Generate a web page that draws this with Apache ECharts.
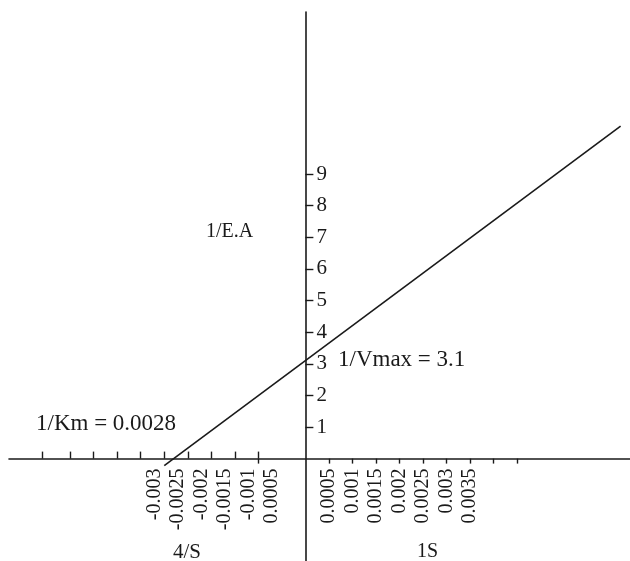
<!DOCTYPE html>
<html>
<head>
<meta charset="utf-8">
<script src="https://cdn.jsdelivr.net/npm/echarts@6/dist/echarts.min.js"></script>
<style>html,body{margin:0;padding:0;background:#fff}#c{width:630px;height:561px}</style>
</head>
<body>
<div id="c"></div>
<script>
// Line through the two ends (1/S, 1/v)
const lineX = [-0.003, 0.0067];
const lineY = [-0.22, 10.52];

// Negative-side ticks and labels (as printed in the picture)
const negTickValues = [-0.0056, -0.005, -0.0045, -0.004, -0.0035, -0.003, -0.0025, -0.002, -0.0015, -0.001];
const negLabelValues = [-0.003, -0.0025, -0.002, -0.0015, -0.001, -0.0005];
const negLabelTexts = ['-0.003', '-0.0025', '-0.002', '-0.0015', '-0.001', '0.0005'];

// Positive-side ticks and labels
const posTickValues = [-0.001, 0.0005, 0.001, 0.0015, 0.002, 0.0025, 0.003, 0.0035, 0.004, 0.0045];
const posLabelValues = [0.0005, 0.001, 0.0015, 0.002, 0.0025, 0.003, 0.0035];
const posLabelTexts = ['0.0005', '0.001', '0.0015', '0.002', '0.0025', '0.003', '0.0035'];

// Y ticks
const yTickValues = [1, 2, 3, 4, 5, 6, 7, 8, 9];

const FONT = 'Liberation Serif';
const INK = '#1a1a1a';

function lookup(vals, texts) {
  return function (v) {
    for (let i = 0; i < vals.length; i++) {
      if (Math.abs(vals[i] - v) < 1e-9) return texts[i];
    }
    return '';
  };
}

const W = 630, H = 561;
const G = { left: 9, right: 0, top: 12, bottom: 0 };
const xMin = -0.0063, xMax = 0.0069;
const yMin = -3.24, yMax = 14.13;
const gw = W - G.left - G.right, gh = H - G.top - G.bottom;
// distance from grid edges to the zero lines (axes cross at the origin)
const xAxisOffset = -(gh * (0 - yMin) / (yMax - yMin));
const yAxisOffset = -(gw * (0 - xMin) / (xMax - xMin));

const chart = echarts.init(document.getElementById('c'));

chart.setOption({
  animation: false,
  backgroundColor: '#fff',
  grid: Object.assign({ containLabel: false, outerBoundsMode: 'none' }, G),
  xAxis: [
    {
      type: 'value', min: xMin, max: xMax, position: 'bottom', offset: xAxisOffset,
      splitLine: { show: false },
      axisLine: { onZero: false, lineStyle: { color: INK, width: 1.6 } },
      axisTick: { show: true, inside: true, length: 7, customValues: negTickValues, lineStyle: { color: INK, width: 1.4 } },
      axisLabel: {
        show: true, rotate: 90, margin: 10, customValues: negLabelValues,
        formatter: lookup(negLabelValues, negLabelTexts),
        fontFamily: FONT, fontSize: 20, color: INK, verticalAlign: 'bottom'
      }
    },
    {
      type: 'value', min: xMin, max: xMax, position: 'bottom', offset: xAxisOffset,
      splitLine: { show: false },
      axisLine: { show: false, onZero: false },
      axisTick: { show: true, inside: false, length: 5, customValues: posTickValues, lineStyle: { color: INK, width: 1.4 } },
      axisLabel: {
        show: true, rotate: 90, margin: 10, customValues: posLabelValues,
        formatter: lookup(posLabelValues, posLabelTexts),
        fontFamily: FONT, fontSize: 20, color: INK
      }
    }
  ],
  yAxis: {
    type: 'value', min: yMin, max: yMax, position: 'left', offset: yAxisOffset,
    splitLine: { show: false },
    axisLine: { onZero: false, lineStyle: { color: INK, width: 1.6 } },
    axisTick: { show: true, inside: true, length: 8, customValues: yTickValues, lineStyle: { color: INK, width: 1.4 } },
    axisLabel: { show: true, inside: true, margin: 11, customValues: yTickValues, fontFamily: FONT, fontSize: 21, color: INK }
  },
  series: [{
    type: 'line',
    xAxisIndex: 0,
    data: lineX.map((x, i) => [x, lineY[i]]),
    showSymbol: false,
    silent: true,
    lineStyle: { color: INK, width: 1.6 }
  }],
  graphic: [
    { type: 'text', style: { x: 206, y: 232, text: '1/E.A', font: '20px "Liberation Serif"', fill: INK, verticalAlign: 'middle' } },
    { type: 'text', style: { x: 36, y: 424, text: '1/Km = 0.0028', font: '23px "Liberation Serif"', fill: INK, verticalAlign: 'middle' } },
    { type: 'text', style: { x: 338, y: 360, text: '1/Vmax = 3.1', font: '23px "Liberation Serif"', fill: INK, verticalAlign: 'middle' } },
    { type: 'text', style: { x: 173, y: 552, text: '4/S', font: '21px "Liberation Serif"', fill: INK, verticalAlign: 'middle' } },
    { type: 'text', style: { x: 417, y: 552, text: '1S', font: '20px "Liberation Serif"', fill: INK, verticalAlign: 'middle' } }
  ]
});
</script>
</body>
</html>
